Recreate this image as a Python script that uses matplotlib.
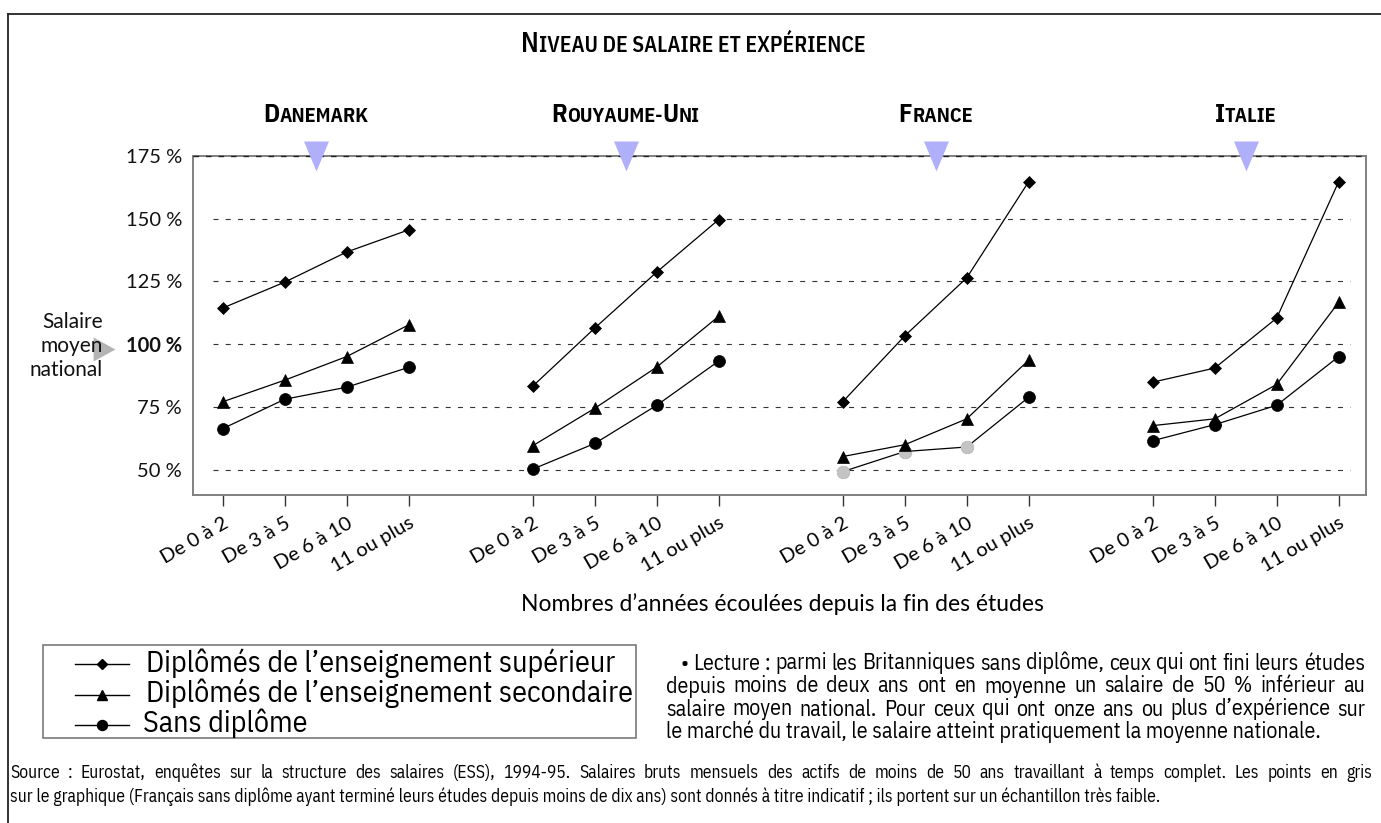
import matplotlib
matplotlib.use('Agg')
import matplotlib.pyplot as plt
from matplotlib.lines import Line2D
from matplotlib.patches import Rectangle
from matplotlib.path import Path

# ---------------- data ----------------
countries = ['Danemark', 'Rouyaume-Uni', 'France', 'Italie']
experience = ['De 0 à 2', 'De 3 à 5', 'De 6 à 10', '11 ou plus']
series_names = ['Diplômés de l’enseignement supérieur',
                'Diplômés de l’enseignement secondaire',
                'Sans diplôme']
# one row per country, one value per experience class (% of national mean wage)
superieur = [[114.4, 124.7, 136.7, 145.5],
             [83.3, 106.4, 128.7, 149.6],
             [77.1, 103.3, 126.4, 164.7],
             [84.9, 90.5, 110.4, 164.7]]
secondaire = [[77.1, 85.7, 95.1, 107.7],
              [59.6, 74.5, 90.9, 111.1],
              [55.3, 60.0, 70.3, 93.7],
              [67.6, 70.3, 84.0, 116.7]]
sans_diplome = [[66.4, 78.1, 82.9, 90.8],
                [50.3, 60.5, 75.7, 93.3],
                [49.3, 57.3, 59.1, 78.9],
                [61.6, 68.0, 75.7, 95.1]]
# points given only as an indication (small sample) -> drawn in grey
indicatif_sans = [[False, False, False, False],
                  [False, False, False, False],
                  [True, True, True, False],
                  [False, False, False, False]]
y_ticks = [50, 75, 100, 125, 150, 175]
y_labels = ['50 %', '75 %', '100 %', '125 %', '150 %', '175 %']

title = 'Niveau de salaire et expérience'
xlabel = 'Nombres d’années écoulées depuis la fin des études'
note_lines = ['• Lecture : parmi les Britanniques sans diplôme, ceux qui ont fini leurs études',
              'depuis moins de deux ans ont en moyenne un salaire de 50 % inférieur au',
              'salaire moyen national. Pour ceux qui ont onze ans ou plus d’expérience sur',
              'le marché du travail, le salaire atteint pratiquement la moyenne nationale.']
source_lines = ['Source : Eurostat, enquêtes sur la structure des salaires (ESS), 1994-95. Salaires bruts mensuels des actifs de moins de 50 ans travaillant à temps complet. Les points en gris',
                'sur le graphique (Français sans diplôme ayant terminé leurs études depuis moins de dix ans) sont donnés à titre indicatif ; ils portent sur un échantillon très faible.']

# ---------------- figure ----------------
W, H = 1381, 823
fig = plt.figure(figsize=(W / 100, H / 100), dpi=100)
renderer = fig.canvas.get_renderer()
MAIN = ['Lato', 'DejaVu Sans']
COND = ['IBM Plex Sans Condensed', 'DejaVu Sans']


def fx(x):
    return x / W


def fy(y):
    return 1 - y / H


ax_top, ax_bot, ax_left, ax_right = 155.7, 495, 193, 1366
ax = fig.add_axes([fx(ax_left), fy(ax_bot), fx(ax_right - ax_left), (ax_bot - ax_top) / H])
ax.set_xlim(-0.48, 18.44)
ax.set_ylim(40, 175)

group_gap = 5
xs_all = []
for g in range(len(countries)):
    xs_all.append([g * group_gap + j for j in range(len(experience))])

# gridlines
for v in y_ticks[:-1]:
    ax.hlines(v, -0.16, 18.18, colors='#333333', lw=0.8, linestyles=(0, (4.5, 6.5)), zorder=1)
ax.axhline(175, color='#222222', lw=1.0, ls=(0, (4, 5)), zorder=3, clip_on=False)

styles = [('D', 6.6), ('^', 9.0), ('o', 8.6)]
legend_ms = [5.0, 7.2, 7.2]
data_sets = [superieur, secondaire, sans_diplome]

# draw circles first, triangles, then diamonds on top
for si in [2, 1, 0]:
    mk, ms = styles[si]
    for g in range(len(countries)):
        xs = xs_all[g]
        vals = data_sets[si][g]
        ax.plot(xs, vals, color='black', lw=0.9, marker=mk, ms=ms, mfc='black',
                mec='black', mew=0.5, zorder=4 + (2 - si))
        if si == 2:
            gx = [x for x, f in zip(xs, indicatif_sans[g]) if f]
            gv = [v for v, f in zip(vals, indicatif_sans[g]) if f]
            if gx:
                ax.plot(gx, gv, ls='none', marker=mk, ms=ms, mfc='#c4c4c4', mec='#c4c4c4',
                        zorder=4.5)

# spines
for s in ['left', 'right', 'bottom', 'top']:
    ax.spines[s].set_color('#808080')
    ax.spines[s].set_linewidth(1.4)

ax.set_yticks(y_ticks)
ax.set_yticklabels(y_labels)
ax.tick_params(axis='y', length=0, pad=8, labelsize=14.5, labelcolor='#111111')
for lab in ax.get_yticklabels():
    lab.set_family(MAIN)
    if lab.get_text() == '100 %':
        lab.set_fontweight('bold')

xt = [x for row in xs_all for x in row]
ax.set_xticks(xt)
ax.set_xticklabels(experience * len(countries), rotation=30, ha='right', rotation_mode='anchor',
                   family=MAIN, fontsize=14.5)
ax.tick_params(axis='x', length=8, width=1, color='#333333', pad=6)

# country markers (blue triangles at group centres)
centers = [sum(r) / len(r) for r in xs_all]
tri_down = Path([(-0.83, 1), (0.83, 1), (0, -1), (-0.83, 1)],
                [Path.MOVETO, Path.LINETO, Path.LINETO, Path.CLOSEPOLY])
ax.plot(centers, [175] * len(centers), ls='none', marker=tri_down, ms=21.6,
        mfc='#b0b0fa', mec='none', clip_on=False, zorder=6)


# ---------------- text helpers ----------------
def text_width(s, size, family, weight='normal'):
    t = fig.text(0, 0, '|' + s + '|', fontsize=size, family=family, weight=weight)
    w1 = t.get_window_extent(renderer).width
    t.set_text('||')
    w2 = t.get_window_extent(renderer).width
    t.remove()
    return w1 - w2


def small_caps(text, xc, ybase, big, small, family, weight):
    runs = []
    for ch in text:
        if ch.isupper():
            size, s = big, ch
        else:
            size, s = small, ch.upper()
        if runs and runs[-1][1] == size:
            runs[-1][0] += s
        else:
            runs.append([s, size])
    widths = [text_width(s, size, family, weight) for s, size in runs]
    x = xc - sum(widths) / 2
    for (s, size), w in zip(runs, widths):
        fig.text(fx(x), fy(ybase), s, fontsize=size, family=family, weight=weight,
                 ha='left', va='baseline', color='black')
        x += w


def justify(line, x0, x1, ybase, size, family):
    words = line.split(' ')
    widths = [text_width(w, size, family) for w in words]
    gap = (x1 - x0 - sum(widths)) / (len(words) - 1)
    x = x0
    for w, wd in zip(words, widths):
        fig.text(fx(x), fy(ybase), w, fontsize=size, family=family, ha='left',
                 va='baseline', color='black')
        x += wd + gap


def fit(text, target, family, weight='normal'):
    return 12 * target / text_width(text, 12, family, weight)


# title and country names
small_caps(title, 693, 52.5, 19.5, 15.5, COND, 600)
for c, cx in zip(countries, centers):
    px = ax.transData.transform((cx, 175))[0]
    small_caps(c, px, 122, 18.5, 14.5, COND, 'bold')

# y axis caption
fig.text(fx(103), fy(346), 'Salaire\nmoyen\nnational', ha='right', va='center',
         multialignment='right', fontsize=15, family=MAIN, linespacing=1.25, color='#111111')
tri_right = Path([(-1, -1.1), (-1, 1.1), (1, 0), (-1, -1.1)],
                 [Path.MOVETO, Path.LINETO, Path.LINETO, Path.CLOSEPOLY])
fig.add_artist(Line2D([fx(104)], [fy(349)], ls='none', marker=tri_right, ms=17.3,
                      mfc='#b4b4b4', mec='none', transform=fig.transFigure))

# x axis caption
fig.text(fx(782), fy(611), xlabel, ha='center', va='baseline', fontsize=16.5, family=MAIN)

# legend (manual box)
fig.add_artist(Rectangle((fx(43), fy(738)), fx(636 - 43), (738 - 645) / H, fill=False,
                         ec='#7a7a7a', lw=1.2, transform=fig.transFigure))
leg_size = fit(series_names[0], 467, COND)
for i, name in enumerate(series_names):
    yc = 664 + i * 30.5
    mk, _ = styles[i]
    fig.add_artist(Line2D([fx(75), fx(129)], [fy(yc), fy(yc)], color='black', lw=1.0,
                          transform=fig.transFigure))
    fig.add_artist(Line2D([fx(102)], [fy(yc)], ls='none', marker=mk, ms=legend_ms[i],
                          mfc='black', mec='black', transform=fig.transFigure))
    fig.text(fx(146 if i != 2 else 143), fy(yc + 7.5), name, fontsize=leg_size, family=COND,
             ha='left', va='baseline')

# reading note (justified)
note_x0 = [680, 666, 666, 666]
note_x1 = 1365
note_size = min(fit(l, note_x1 - x0 - 6, COND) for l, x0 in zip(note_lines, note_x0))
note_base = [669.5, 692.5, 715.5, 738]
for i, line in enumerate(note_lines):
    if i < len(note_lines) - 1:
        justify(line, note_x0[i], note_x1, note_base[i], note_size, COND)
    else:
        fig.text(fx(note_x0[i]), fy(note_base[i]), line, fontsize=note_size, family=COND,
                 ha='left', va='baseline')

# source
src_size = min(fit(source_lines[1], 1140, COND), fit(source_lines[0], 1350, COND))
justify(source_lines[0], 10, 1372, 778, src_size, COND)
fig.text(fx(10), fy(802), source_lines[1], fontsize=src_size, family=COND, ha='left',
         va='baseline')

# outer frame (top and left edges)
fig.add_artist(Line2D([fx(8), fx(W + 5)], [fy(14), fy(14)], color='#222222', lw=1.3,
                      transform=fig.transFigure))
fig.add_artist(Line2D([fx(8), fx(8)], [fy(14), fy(H + 5)], color='#222222', lw=1.3,
                      transform=fig.transFigure))

fig.savefig('out.png', dpi=100)
